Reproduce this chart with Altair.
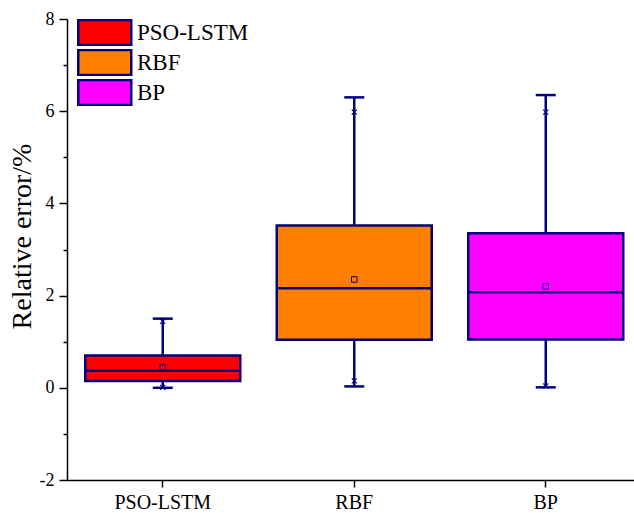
import altair as alt
import pandas as pd

categories = ["PSO-LSTM", "RBF", "BP"]
colors = ["#FF0000", "#FF8000", "#FF00FF"]
whisker_low = [0.0, 0.03, 0.01]
q1 = [0.15, 1.04, 1.05]
median = [0.37, 2.16, 2.07]
q3 = [0.70, 3.52, 3.35]
whisker_high = [1.50, 6.30, 6.35]
mean = [0.44, 2.35, 2.20]
min_marker = [0.01, 0.15, 0.04]
max_marker = [1.44, 5.98, 5.98]
y_ticks = [-2, -1, 0, 1, 2, 3, 4, 5, 6, 7, 8]

df = pd.DataFrame({
    "model": categories,
    "low": whisker_low,
    "q1": q1,
    "median": median,
    "q3": q3,
    "high": whisker_high,
    "mean": mean,
    "mn": min_marker,
    "mx": max_marker,
})

NAVY = "#000080"
FONT = "Times New Roman, Liberation Serif, serif"

x_enc = alt.X(
    "model:N",
    sort=categories,
    scale=alt.Scale(domain=categories, range=[0, 574.5], paddingInner=0, paddingOuter=0),
    axis=alt.Axis(
        title=None, labelAngle=0, labelFontSize=20, labelFont=FONT, labelColor="black",
        tickSize=7, tickWidth=1.5, tickColor="black", domainColor="black", domainWidth=1.5,
        labelPadding=5, grid=False,
    ),
)

y_scale = alt.Scale(domain=[-2, 8], nice=False, zero=False)
y_axis = alt.Axis(
    title="Relative error/%", values=y_ticks, grid=False,
    labelExpr="datum.value % 2 === 0 ? '' + datum.value : ''",
    labelOverlap=False,
    tickSize={"condition": {"test": "datum.value % 2 !== 0", "value": 4}, "value": 8},
    tickWidth=1.5, tickColor="black", domainColor="black", domainWidth=1.5,
    labelFontSize=18, labelFont=FONT, labelColor="black", labelPadding=5,
    titleFont=FONT, titleFontSize=28, titleFontWeight="normal", titleColor="black",
    titleAngle=-90, titleX=-45, titleY=217, titleAlign="center", titleBaseline="middle",
)

base = alt.Chart(df)

whisker = base.mark_rule(color=NAVY, strokeWidth=2.5).encode(
    x=x_enc, y=alt.Y("low:Q", scale=y_scale, axis=y_axis), y2="high:Q"
)

box = base.mark_bar(stroke=NAVY, strokeWidth=2.5, size=155, opacity=1).encode(
    x=x_enc,
    y=alt.Y("q1:Q", scale=y_scale),
    y2="q3:Q",
    color=alt.Color(
        "model:N",
        sort=categories,
        scale=alt.Scale(domain=categories, range=colors),
        legend=alt.Legend(
            title=None, orient="none", legendX=10, legendY=0,
            symbolType="M-1,-0.94H3V0.94H-1Z", symbolSize=702,
            symbolStrokeColor=NAVY, symbolStrokeWidth=2.5, symbolOpacity=1,
            labelFont=FONT, labelFontSize=23, labelColor="black", labelOffset=31,
            clipHeight=27, rowPadding=3, padding=0,
        ),
    ),
)

med = base.mark_tick(color=NAVY, size=155, thickness=2.5, orient="horizontal", opacity=1).encode(
    x=x_enc, y=alt.Y("median:Q", scale=y_scale)
)

cap_low = base.mark_tick(color=NAVY, size=20, thickness=2.5, orient="horizontal", opacity=1).encode(
    x=x_enc, y=alt.Y("low:Q", scale=y_scale)
)
cap_high = base.mark_tick(color=NAVY, size=20, thickness=2.5, orient="horizontal", opacity=1).encode(
    x=x_enc, y=alt.Y("high:Q", scale=y_scale)
)

mean_pt = base.mark_point(shape="square", size=30, filled=False, color=NAVY, strokeWidth=1, opacity=1).encode(
    x=x_enc, y=alt.Y("mean:Q", scale=y_scale)
)

xshape = "M-1,-1L1,1M-1,1L1,-1"
min_pt = base.mark_point(shape=xshape, size=25, filled=False, color=NAVY, strokeWidth=1.2, opacity=1).encode(
    x=x_enc, y=alt.Y("mn:Q", scale=y_scale)
)
max_pt = base.mark_point(shape=xshape, size=25, filled=False, color=NAVY, strokeWidth=1.2, opacity=1).encode(
    x=x_enc, y=alt.Y("mx:Q", scale=y_scale)
)

chart = alt.layer(whisker, box, med, cap_low, cap_high, mean_pt, min_pt, max_pt).properties(
    width=567, height=461,
    autosize=alt.AutoSizeParams(type="none"),
    padding={"left": 67, "top": 19, "right": 0, "bottom": 33},
).configure(background="white").configure_view(stroke=None).configure_axis(grid=False)

chart.save("out.html", embed_options={"renderer": "svg", "actions": False})
